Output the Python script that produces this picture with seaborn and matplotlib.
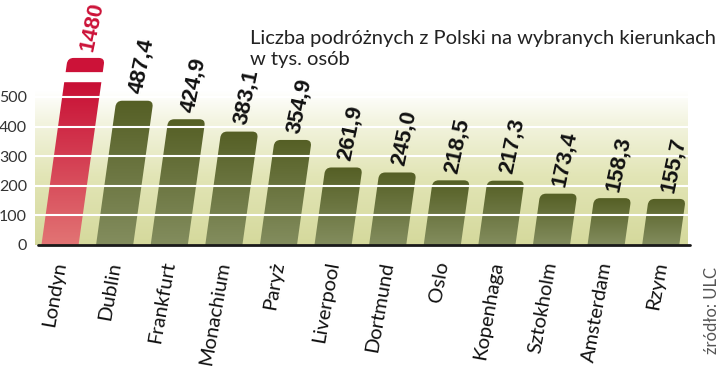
import numpy as np
import pandas as pd
import matplotlib
matplotlib.use("Agg")
import matplotlib.pyplot as plt
import seaborn as sns
from matplotlib.path import Path
from matplotlib.patches import PathPatch
from matplotlib.transforms import Affine2D
from matplotlib import font_manager as fm
from matplotlib.colors import to_rgb

# ---------------- data ----------------
cities = ["Londyn", "Dublin", "Frankfurt", "Monachium", "Paryż", "Liverpool",
          "Dortmund", "Oslo", "Kopenhaga", "Sztokholm", "Amsterdam", "Rzym"]
values = [1480, 487.4, 424.9, 383.1, 354.9, 261.9, 245.0, 218.5, 217.3, 173.4, 158.3, 155.7]
value_labels = ["1480", "487,4", "424,9", "383,1", "354,9", "261,9", "245,0",
                "218,5", "217,3", "173,4", "158,3", "155,7"]
yticks = [0, 100, 200, 300, 400, 500]
title_lines = ["Liczba podróżnych z Polski na wybranych kierunkach", "w tys. osób"]
source = "źródło: ULC"

# axis-break display settings (for the out-of-scale first bar)
BREAK_LOW = 550
CAP_LOW = 584
CAP_HIGH = 632


def pick(cands, weight="normal"):
    for c in cands:
        try:
            fm.findfont(fm.FontProperties(family=c, weight=weight), fallback_to_default=False)
            return c
        except Exception:
            pass
    return "DejaVu Sans"


sns.set_theme(style="white")
light_font = pick(["Lato", "Open Sans", "Roboto"])
bold_font = pick(["Liberation Sans", "Roboto", "DejaVu Sans"], "bold")
plt.rcParams["font.family"] = [light_font, "DejaVu Sans"]

W, H = 720, 367
fig = plt.figure(figsize=(W / 100, H / 100), dpi=100, facecolor="white")
px_per_unit = 0.296
ax = fig.add_axes([32.7 / W, (H - 245) / H, 655.3 / W, 650 * px_per_unit / H])
ax.set_facecolor("white")

shown = np.minimum(values, BREAK_LOW)
df = pd.DataFrame({"city": cities, "shown": shown})
palette = {c: ("#c81032" if i == 0 else "#5a6428") for i, c in enumerate(cities)}
sns.barplot(data=df, x="city", y="shown", hue="city", palette=palette, width=0.68,
            legend=False, ax=ax, saturation=1)
ax.set_xlim(-0.5, 11.5)
ax.set_ylim(0, 650)
ax.autoscale(False)

ybase = ax.transData.transform((0, 0))[1]
k = 0.14
skew = Affine2D().translate(0, -ybase).skew(np.arctan(k), 0).translate(0, ybase)


def rounded_top(x0, x1, y0, y1, r):
    verts = [(x0, y0), (x0, y1 - r), (x0, y1), (x0 + r, y1), (x1 - r, y1), (x1, y1),
             (x1, y1 - r), (x1, y0), (x0, y0)]
    codes = [Path.MOVETO, Path.LINETO, Path.CURVE3, Path.CURVE3, Path.LINETO,
             Path.CURVE3, Path.CURVE3, Path.LINETO, Path.CLOSEPOLY]
    return Path(verts, codes)


def grad_img(bottom, top, n=256):
    b = np.array(to_rgb(bottom)); t = np.array(to_rgb(top))
    f = np.linspace(0, 1, n)[:, None]
    return (b + (t - b) * f)[:, None, :]


# background band
bg_stops = [(0, "#d5d99c"), (0.45, "#e2e5b6"), (0.8, "#f3f4e0"), (1.0, "#ffffff")]
n = 256
fy = np.linspace(0, 1, n)
bg = np.zeros((n, 1, 3))
for ch in range(3):
    bg[:, 0, ch] = np.interp(fy, [s for s, _ in bg_stops], [to_rgb(c)[ch] for _, c in bg_stops])
ax.imshow(bg, extent=(-0.45, 11.52, 0, 520), origin="lower", aspect="auto", zorder=0.5,
          interpolation="bilinear")

green = ("#838d5e", "#555f25")
red = ("#e27474", "#c80f35")

for p in list(ax.patches):
    x0, w, h = p.get_x(), p.get_width(), p.get_height()
    i = int(round(x0 + w / 2))
    p.set_visible(False)
    dx0, dy0 = ax.transData.transform((x0, 0))
    dx1, dy1 = ax.transData.transform((x0 + w, h))
    r = 0 if i == 0 else 6
    clip = PathPatch(rounded_top(dx0, dx1, dy0, dy1, r), transform=skew)
    cols = red if i == 0 else green
    im = ax.imshow(grad_img(*cols), extent=(i - 1, i + 1, 0, h), origin="lower",
                   aspect="auto", zorder=2, interpolation="bilinear")
    im.set_clip_path(clip)
    if i == 0:
        cx0, cy0 = ax.transData.transform((x0, CAP_LOW))
        cx1, cy1 = ax.transData.transform((x0 + w, CAP_HIGH))
        cap = PathPatch(rounded_top(cx0, cx1, cy0, cy1, 6), transform=skew,
                        facecolor="#cc1238", edgecolor="none", zorder=2)
        ax.add_artist(cap)
        cap.set_clip_on(False)

ax.set_xlim(-0.5, 11.5)
ax.set_ylim(0, 650)

# gridlines over the bars
ax.hlines(yticks[1:], -0.45, 11.52, colors="white", lw=1.5, zorder=3)
ax.axhline(0, xmin=0.008, xmax=1.003, color="#1a1a1a", lw=2, zorder=6, clip_on=False)

# value labels
for i, (v, lab) in enumerate(zip(values, value_labels)):
    top = CAP_HIGH if i == 0 else min(v, BREAK_LOW)
    top_px = ax.transData.transform((i, top))[1]
    shift = k * (top_px - ybase)
    ax.annotate(lab, xy=(i, top), xytext=(shift + 6, 6), textcoords="offset pixels",
                rotation=78, rotation_mode="anchor", ha="left", va="baseline",
                fontsize=16, fontweight="bold", family=[bold_font, "DejaVu Sans"],
                color="#cc1238" if i == 0 else "#111111", annotation_clip=False,
                zorder=7)

for s in ax.spines.values():
    s.set_visible(False)
ax.set_xticks(range(len(cities)))
ax.set_xticklabels(cities, rotation=80, ha="right", va="center", rotation_mode="anchor",
                   fontsize=14.5, color="#111111")
ax.set_yticks(yticks)
ax.set_yticklabels([str(t) for t in yticks], fontsize=11.5, color="#333333")
ax.tick_params(axis="x", length=0, pad=12)
ax.tick_params(axis="y", length=0, pad=4)
ax.set_xlabel("")
ax.set_ylabel("")

fig.text(250 / W, 1 - 44 / H, title_lines[0], fontsize=14.5, ha="left", va="baseline",
         color="#222222")
fig.text(250 / W, 1 - 65 / H, title_lines[1], fontsize=14.5, ha="left", va="baseline",
         color="#222222")
fig.text(712 / W, 1 - 311 / H, source, rotation=90, ha="center", va="center",
         fontsize=12, color="#555555")

fig.savefig("out.png", dpi=100, facecolor="white")
